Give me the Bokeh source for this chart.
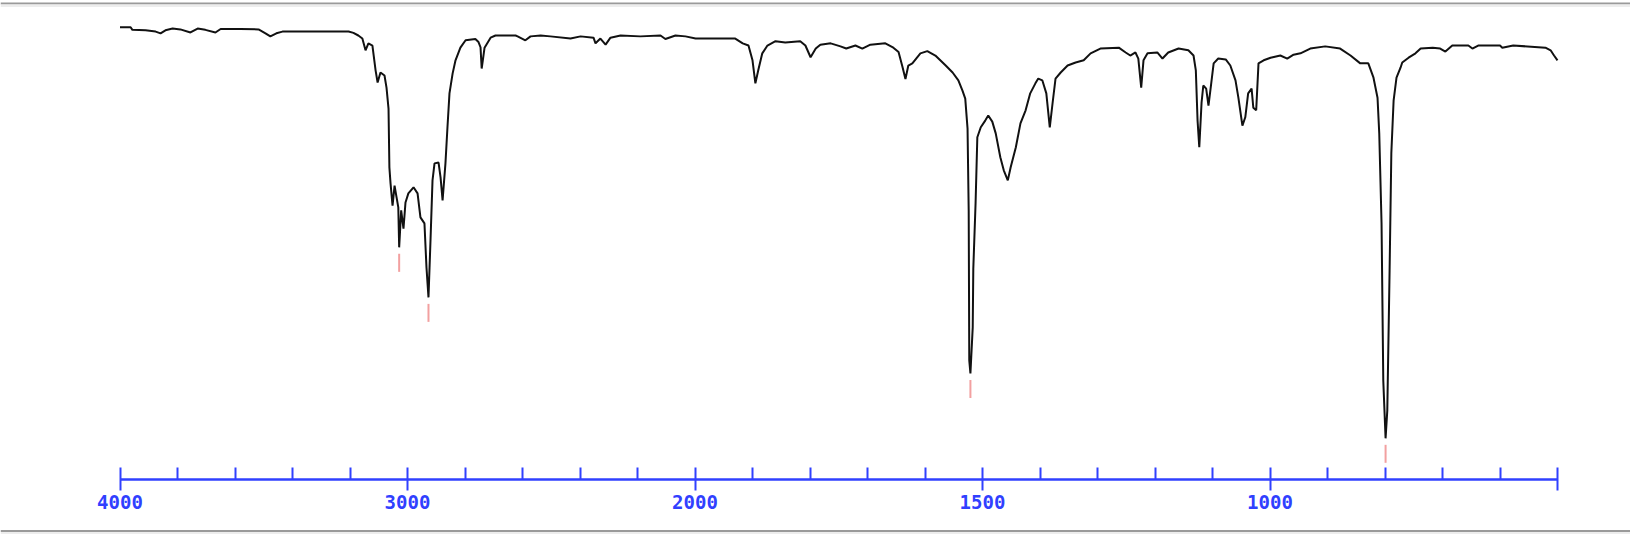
import numpy as np
from bokeh.plotting import figure
from bokeh.models import Range1d, LinearAxis, FixedTicker, BoxAnnotation
from bokeh.embed import file_html
from bokeh.resources import INLINE

# ---- data (wavenumber in cm-1, transmittance in %) ----
wavenumber = [4000, 3963, 3957, 3911, 3876, 3859, 3842, 3817, 3790, 3755, 3730, 3703, 3668, 3650,
              3581, 3518, 3494, 3477, 3456, 3435, 3372, 3268, 3205, 3188, 3171, 3157, 3146, 3136,
              3122, 3111, 3104, 3094, 3080, 3073, 3066, 3063, 3059, 3052, 3045, 3038, 3032, 3029,
              3022, 3014, 3007, 2997, 2979, 2965, 2955, 2941, 2934, 2927, 2920, 2913, 2906, 2892,
              2885, 2878, 2868, 2861, 2854, 2843, 2833, 2816, 2798, 2764, 2753, 2746, 2742, 2738,
              2732, 2711, 2694, 2624, 2617, 2590, 2572, 2537, 2503, 2433, 2398, 2353, 2346, 2329,
              2311, 2294, 2259, 2190, 2120, 2103, 2068, 2033, 1999, 1930, 1917, 1907, 1900, 1895,
              1890, 1883, 1874, 1860, 1843, 1817, 1808, 1799, 1790, 1782, 1764, 1747, 1737, 1721,
              1709, 1695, 1669, 1655, 1646, 1639, 1634, 1629, 1622, 1608, 1596, 1582, 1564, 1552,
              1542, 1535, 1530, 1526, 1524, 1523, 1521, 1517, 1516, 1512, 1509, 1503, 1495, 1490,
              1483, 1477, 1469, 1463, 1456, 1451, 1442, 1434, 1425, 1417, 1408, 1403, 1396, 1389,
              1383, 1378, 1373, 1364, 1352, 1338, 1324, 1312, 1295, 1263, 1251, 1243, 1234, 1229,
              1224, 1220, 1213, 1196, 1187, 1177, 1159, 1142, 1133, 1129, 1126, 1123, 1119, 1116,
              1111, 1107, 1102, 1098, 1090, 1077, 1069, 1060, 1055, 1048, 1043, 1038, 1032, 1029,
              1024, 1020, 1011, 999, 982, 970, 959, 947, 930, 904, 878, 860, 843, 829,
              820, 813, 810, 806, 803, 799, 796, 792, 789, 785, 780, 773, 770, 759,
              747, 738, 717, 704, 695, 683, 655, 648, 638, 600, 596, 577, 521, 512,
              506, 500]
transmittance = [99.6, 99.6, 99.0, 98.9, 98.6, 98.2, 98.9, 99.3, 99.1, 98.4, 99.3, 99.0, 98.4, 99.2,
                 99.2, 99.1, 98.2, 97.5, 98.2, 98.6, 98.6, 98.6, 98.6, 98.3, 97.7, 97.0, 94.3, 95.9,
                 95.4, 89.7, 86.9, 89.2, 88.5, 85.7, 80.9, 67.4, 63.7, 58.6, 63.2, 60.5, 58.2, 49.0,
                 57.5, 53.3, 59.3, 61.4, 62.8, 61.4, 55.9, 54.5, 44.4, 37.5, 50.6, 64.4, 68.3, 68.5,
                 65.1, 59.8, 68.3, 76.6, 84.4, 89.0, 92.0, 94.9, 96.6, 96.9, 96.2, 95.0, 90.1, 92.0,
                 94.9, 97.2, 97.7, 97.7, 97.5, 96.6, 97.5, 97.7, 97.5, 97.0, 97.5, 97.2, 95.9, 97.0,
                 95.6, 97.2, 97.7, 97.5, 97.7, 96.9, 97.7, 97.5, 97.0, 97.0, 95.9, 95.4, 92.0, 86.7,
                 89.7, 93.6, 95.4, 96.4, 96.1, 96.4, 95.4, 92.7, 94.7, 95.6, 95.9, 95.2, 94.7, 95.4,
                 94.7, 95.6, 95.9, 94.9, 93.9, 90.4, 87.7, 90.8, 91.3, 93.6, 94.1, 93.1, 90.8, 89.2,
                 87.4, 85.1, 83.2, 76.3, 57.5, 23.0, 20.0, 30.6, 44.1, 59.3, 74.3, 76.6, 78.2, 79.3,
                 77.9, 75.2, 69.7, 66.7, 64.4, 67.4, 72.0, 77.5, 80.5, 84.4, 86.7, 87.8, 87.4, 84.4,
                 76.6, 82.3, 87.8, 89.2, 90.8, 91.5, 92.0, 93.6, 94.7, 94.9, 93.8, 93.1, 93.8, 92.4,
                 85.7, 92.0, 93.6, 93.8, 92.4, 93.8, 94.7, 94.3, 93.1, 89.7, 78.2, 72.0, 82.3, 86.2,
                 85.5, 81.6, 86.9, 91.3, 92.4, 92.2, 90.8, 87.4, 83.4, 77.0, 78.9, 84.4, 85.5, 81.1,
                 80.5, 91.3, 92.0, 92.6, 93.1, 92.4, 93.3, 93.6, 94.7, 95.2, 94.7, 93.1, 91.3, 91.3,
                 88.0, 83.4, 75.2, 54.5, 18.4, 5.1, 11.5, 43.7, 70.6, 82.8, 88.0, 90.3, 91.5, 92.6,
                 93.6, 94.7, 94.9, 94.7, 94.0, 95.4, 95.4, 94.7, 95.4, 95.4, 94.9, 95.4, 94.9, 94.3,
                 93.1, 92.0]

peak_wavenumber = [3029, 2927, 1521, 799]
peak_transmittance = [49.0, 37.5, 20.0, 5.1]

major_tick_wavenumber = [4000, 3000, 2000, 1500, 1000, 500]
major_tick_label = ["4000", "3000", "2000", "1500", "1000", ""]
minor_tick_wavenumber = [3800, 3600, 3400, 3200, 2800, 2600, 2400, 2200,
                         1900, 1800, 1700, 1600, 1400, 1300, 1200, 1100, 900, 800, 700, 600]


def to_u(wn):
    """Display coordinate: scale doubles below 2000 cm-1."""
    wn = np.asarray(wn, dtype=float)
    return np.where(wn >= 2000, 4000 - wn, 2000 + 2 * (2000 - wn))


# ---- layout constants (pixels) ----
W, H = 1630, 534
X_ORIGIN = 119.5      # pixel of 4000 cm-1
PX_PER_U = 0.2875
Y_T0 = 460.0          # pixel of 0 %T
PX_PER_T = 4.35


def t_at(px):
    return (Y_T0 - px) / PX_PER_T


x_range = Range1d(-X_ORIGIN / PX_PER_U, (W - X_ORIGIN) / PX_PER_U)
y_range = Range1d(t_at(H), t_at(0))

p = figure(width=W, height=H, x_range=x_range, y_range=y_range,
           output_backend="svg", toolbar_location=None,
           x_axis_type=None, y_axis_type=None, min_border=0,
           outline_line_color=None, margin=0)
p.grid.visible = False
p.background_fill_color = "white"
p.border_fill_color = "white"

# page frame lines
p.add_layout(BoxAnnotation(bottom=t_at(4), top=t_at(2), fill_color="#9a9a9a", fill_alpha=1, line_color=None))
p.add_layout(BoxAnnotation(bottom=t_at(6.5), top=t_at(4), fill_color="#ededed", fill_alpha=1, line_color=None))
p.add_layout(BoxAnnotation(bottom=t_at(531.5), top=t_at(529.5), fill_color="#9a9a9a", fill_alpha=1, line_color=None))
p.add_layout(BoxAnnotation(bottom=t_at(534), top=t_at(531.5), fill_color="#ededed", fill_alpha=1, line_color=None))

# spectrum
p.line(to_u(wavenumber), transmittance, line_color="#111111", line_width=2)

# peak markers
pu = to_u(peak_wavenumber)
pt = np.asarray(peak_transmittance)
p.segment(x0=pu, y0=pt - 6.5 / PX_PER_T, x1=pu, y1=pt - 24.5 / PX_PER_T,
          line_color="#f2a0a0", line_width=2)

# x axis
major_u = [float(v) for v in to_u(major_tick_wavenumber)]
minor_u = [float(v) for v in to_u(minor_tick_wavenumber)]
BLUE = "#3040ff"
axis = LinearAxis(ticker=FixedTicker(ticks=major_u, minor_ticks=minor_u),
                  fixed_location=t_at(478.5), bounds=(0, 5000),
                  major_label_overrides={u: lab for u, lab in zip(major_u, major_tick_label)})
axis.axis_line_color = BLUE
axis.axis_line_width = 2.5
axis.major_tick_line_color = BLUE
axis.major_tick_line_width = 2
axis.minor_tick_line_color = BLUE
axis.minor_tick_line_width = 2
axis.major_tick_in = 12
axis.major_tick_out = 11
axis.minor_tick_in = 12
axis.minor_tick_out = 0
axis.major_label_text_font = "DejaVu Sans Mono"
axis.major_label_text_font_size = "19px"
axis.major_label_text_font_style = "bold"
axis.major_label_text_color = BLUE
axis.major_label_standoff = 5
p.add_layout(axis, "below")

open("out.html", "w").write(file_html(p, INLINE))
